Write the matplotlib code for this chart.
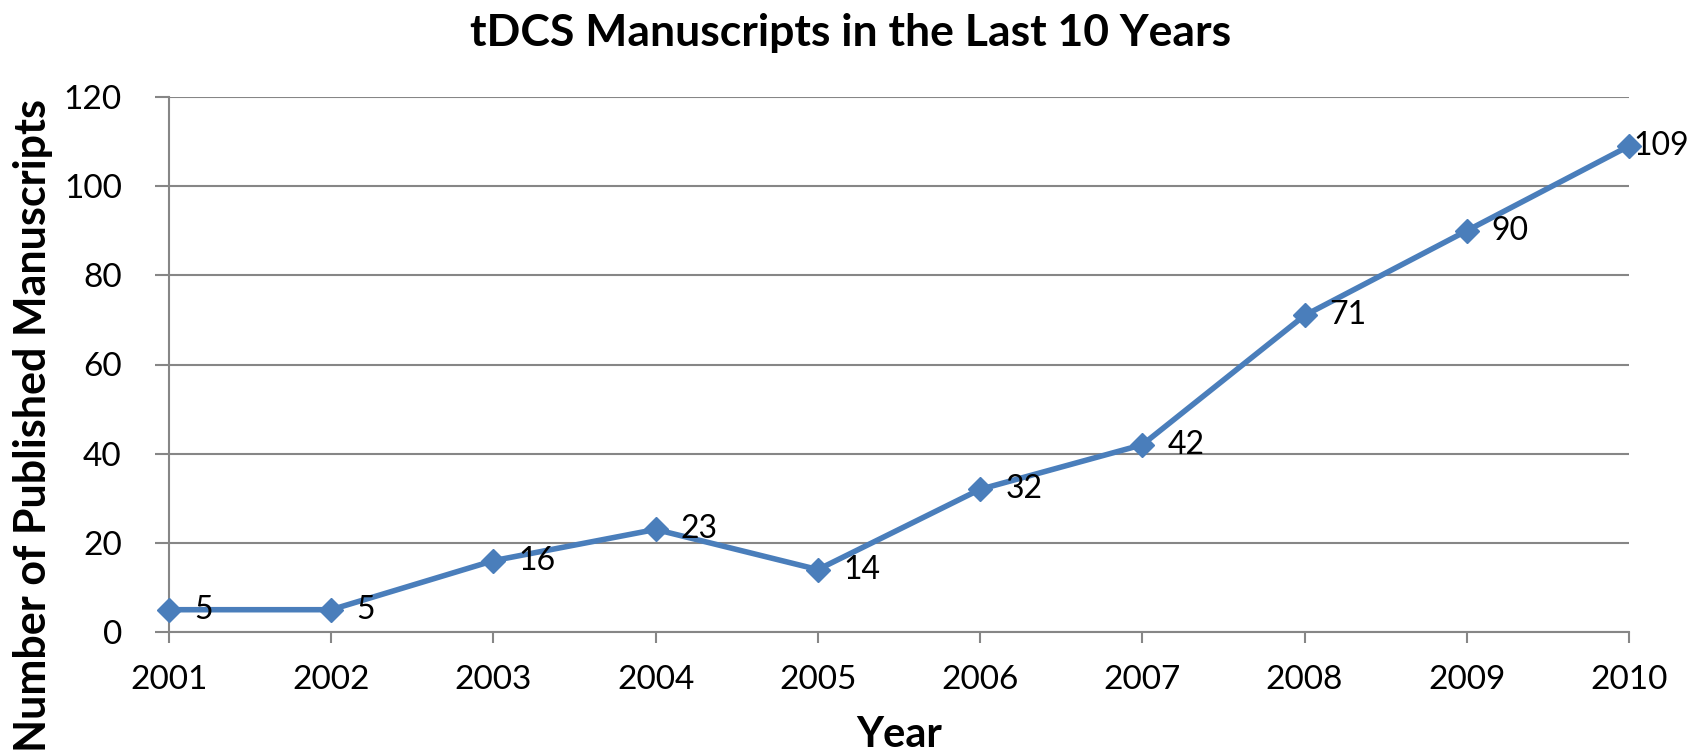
import matplotlib
matplotlib.use("Agg")
import matplotlib.pyplot as plt

years = [2001, 2002, 2003, 2004, 2005, 2006, 2007, 2008, 2009, 2010]
manuscripts = [5, 5, 16, 23, 14, 32, 42, 71, 90, 109]
y_ticks = [0, 20, 40, 60, 80, 100, 120]

plt.rcParams["font.family"] = ["Lato", "DejaVu Sans"]

line_color = "#4A7EBB"
grid_color = "#868686"

fig = plt.figure(figsize=(17.02, 7.54), dpi=100)
ax = fig.add_axes([169 / 1702, 1 - 632 / 754, 1460 / 1702, 535 / 754])

ax.plot(years, manuscripts, color=line_color, lw=4, marker="D", ms=12,
        clip_on=False, zorder=3)

for i, (x, y) in enumerate(zip(years, manuscripts)):
    dx = 3 if i == len(years) - 1 else 18
    ax.annotate(str(y), (x, y), xytext=(dx, 0), textcoords="offset points",
                ha="left", va="center", fontsize=23)

ax.set_xlim(years[0], years[-1])
ax.set_ylim(0, 120)
ax.set_xticks(years)
ax.set_yticks(y_ticks)
ax.tick_params(axis="both", labelsize=24, color=grid_color, width=1.5)
ax.tick_params(axis="y", length=10, pad=24)
ax.tick_params(axis="x", length=8, pad=16)
ax.yaxis.grid(True, color=grid_color, lw=1.5)
ax.set_axisbelow(True)
for side in ["top", "right"]:
    ax.spines[side].set_visible(False)
for side in ["left", "bottom"]:
    ax.spines[side].set_color(grid_color)
    ax.spines[side].set_linewidth(1.5)

fig.text(0.5, 1 - 33 / 754, "tDCS Manuscripts in the Last 10 Years",
         ha="center", va="center", fontsize=32, fontweight="bold")
fig.text(899 / 1702, 1 - 735 / 754, "Year", ha="center", va="center",
         fontsize=30, fontweight="bold")
fig.text(33 / 1702, 1 - 426 / 754, "Number of Published Manuscripts",
         ha="center", va="center", rotation=90, fontsize=31, fontweight="bold")

fig.savefig("out.png", dpi=100)
